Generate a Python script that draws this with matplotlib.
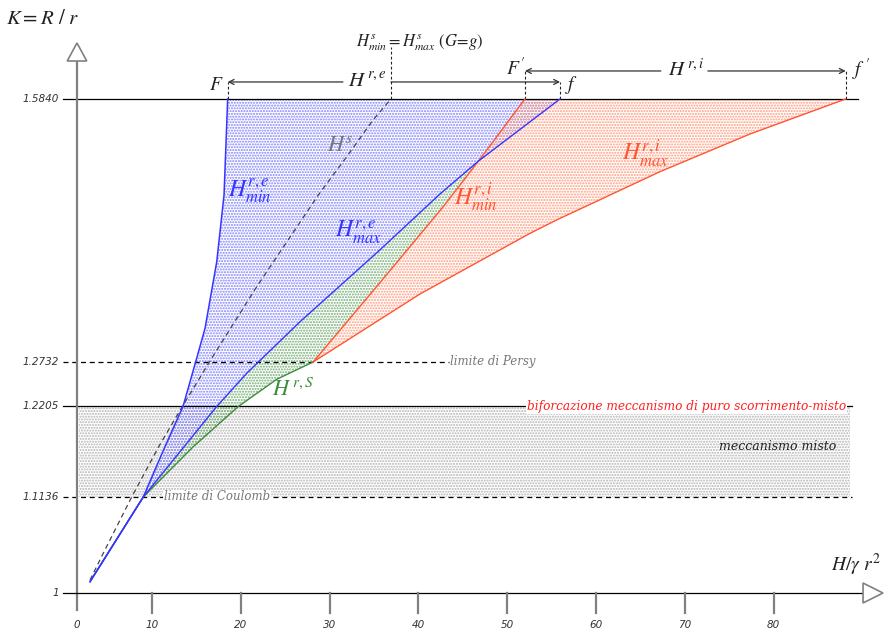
import matplotlib
matplotlib.use("Agg")
import matplotlib.pyplot as plt
from matplotlib.patches import Polygon
import numpy as np

plt.rcParams["mathtext.fontset"] = "stix"
plt.rcParams["hatch.linewidth"] = 1.0

# ---------------------------------------------------------------- data
# K = R / r levels marked on the vertical axis
k_levels = [1.0, 1.1136, 1.2205, 1.2732, 1.5840]
k_labels = ["1", "1.1136", "1.2205", "1.2732", "1.5840"]
x_ticks = [0, 10, 20, 30, 40, 50, 60, 70, 80]
k_coulomb, k_bif, k_persy, k_top = 1.1136, 1.2205, 1.2732, 1.5840

# boundary curves: H / (gamma r^2) against K
he_min_h = [3.02, 9.02, 11.46, 13.49, 15.03, 15.97, 17.29, 18.11, 18.52]
he_min_k = [1.0134, 1.1136, 1.1730, 1.2205, 1.2775, 1.3129, 1.3917, 1.4705, 1.5840]

he_max_h = [3.02, 9.02, 17.29, 20.66, 26.67, 35.50, 42.43, 46.77, 55.95]
he_max_k = [1.0134, 1.1136, 1.2205, 1.2597, 1.3207, 1.4040, 1.4717, 1.5107, 1.5840]

hs_h = [3.02, 4.52, 7.71, 10.80, 13.40, 16.72, 21.79, 28.73, 31.93, 34.89, 36.91]
hs_k = [1.0154, 1.0473, 1.1135, 1.1738, 1.2202, 1.2775, 1.3621, 1.4705, 1.5158, 1.5592, 1.5840]

hrs_h = [3.02, 9.02, 14.65, 19.72, 24.04, 28.16]
hrs_k = [1.0134, 1.1136, 1.1730, 1.2205, 1.2526, 1.2732]

hi_min_h = [28.16, 35.60, 42.80, 46.77, 52.00]
hi_min_k = [1.2732, 1.3660, 1.4567, 1.5107, 1.5840]

hi_max_h = [28.16, 40.18, 52.57, 55.57, 67.21, 77.34, 88.12]
hi_max_k = [1.2732, 1.3535, 1.4252, 1.4410, 1.4981, 1.5426, 1.5840]

# ---------------------------------------------------------------- styles
BLUE = "#3535ff"
RED = "#ff5533"
GREEN = "#3c8c3c"
GREY = "#777777"
AXGREY = "#808080"
SERIF = "DejaVu Serif"

fig = plt.figure(figsize=(8.87, 6.32), dpi=100)
ax = fig.add_axes([0, 0, 1, 1])
ax.set_xlim(-7.12, 92.77)
ax.set_ylim(0.9539, 1.7010)
ax.axis("off")

x_axis0 = 1.55          # where the vertical axis stands
x_line0 = 0.0           # left end of the horizontal reference lines


def stipple(xs, ys, color, z):
    ax.add_patch(Polygon(np.column_stack([xs, ys]), closed=True,
                         facecolor="none", edgecolor=color, hatch="......",
                         linewidth=0, zorder=z))


# mixed-mechanism band between the Coulomb limit and the bifurcation
ax.fill_between([x_axis0 + 0.2, 88.6], k_coulomb, k_bif, facecolor="none",
                edgecolor="#b4b4b4", hatch="......", linewidth=0, zorder=1)

# H^{r,e} domain: between H^{r,e}_min and H^{r,e}_max
stipple(he_min_h + he_max_h[::-1], he_min_k + he_max_k[::-1], "#8080ff", 2)

# H^{r,S} domain: between H^{r,e}_max and H^{r,S} + H^{r,i}_min (up to their crossing)
k_cross = 1.5107
bm_h = [h for h, k in zip(he_max_h, he_max_k) if k_coulomb <= k <= k_cross]
bm_k = [k for k in he_max_k if k_coulomb <= k <= k_cross]
gs_h = [h for h, k in zip(hrs_h, hrs_k) if k >= k_coulomb]
gs_k = [k for k in hrs_k if k >= k_coulomb]
rm_h = [h for h, k in zip(hi_min_h, hi_min_k) if k_persy < k <= k_cross]
rm_k = [k for k in hi_min_k if k_persy < k <= k_cross]
right_h = gs_h + rm_h
right_k = gs_k + rm_k
stipple(bm_h + right_h[::-1], bm_k + right_k[::-1], "#70aa70", 2)

# H^{r,i} domain: between H^{r,i}_min and H^{r,i}_max
stipple(hi_min_h + hi_max_h[::-1], hi_min_k + hi_max_k[::-1], "#ff9a7c", 2)

# ---------------------------------------------------------------- reference lines
ax.plot([x_line0, 89.5], [k_top, k_top], color="black", lw=0.9, zorder=3)
ax.plot([x_line0, 43.4], [k_persy, k_persy], color="black", lw=0.9,
        ls=(0, (4, 3)), zorder=3)
ax.plot([x_line0, 88.8], [k_bif, k_bif], color="black", lw=0.9, zorder=3)
ax.plot([x_line0, 88.8], [k_coulomb, k_coulomb], color="black", lw=0.9,
        ls=(0, (4, 3)), zorder=3)

# ---------------------------------------------------------------- curves
ax.plot(hs_h, hs_k, color="#444444", lw=0.9, ls=(0, (4, 3)), zorder=4)
ax.plot(hrs_h, hrs_k, color=GREEN, lw=1.0, zorder=5)
ax.plot(hi_min_h, hi_min_k, color=RED, lw=1.0, zorder=5)
ax.plot(hi_max_h, hi_max_k, color=RED, lw=1.0, zorder=5)
ax.plot(he_min_h, he_min_k, color=BLUE, lw=1.1, zorder=6)
ax.plot(he_max_h, he_max_k, color=BLUE, lw=1.0, zorder=6)

# ---------------------------------------------------------------- axes
ax.plot([x_axis0, x_axis0], [0.9799, 1.6289], color=AXGREY, lw=1.6, zorder=7)
ax.add_patch(Polygon([[x_axis0 - 1.1, 1.6289], [x_axis0 + 1.1, 1.6289],
                      [x_axis0, 1.6502]], closed=True, facecolor="white",
                     edgecolor=AXGREY, lw=1.2, zorder=7))
ax.plot([x_line0, 90.07], [1.0, 1.0], color="black", lw=0.9, zorder=7)
ax.add_patch(Polygon([[90.07, 1.0118], [90.07, 0.9882], [92.32, 1.0]],
                     closed=True, facecolor="white", edgecolor=AXGREY,
                     lw=1.2, zorder=7))
for t in x_ticks:
    xt = max(t, x_axis0)
    if t > 0:
        ax.plot([xt, xt], [1.0, 0.9764], color=AXGREY, lw=1.6, zorder=7)
    ax.text(xt, 0.9622, str(t), ha="center", va="center", fontsize=7.5,
            style="italic", color="#333333", family="DejaVu Sans")
for k, lab in zip(k_levels, k_labels):
    ax.text(-0.47, k, lab, ha="right", va="center", fontsize=7.5,
            style="italic", color="#333333", family="DejaVu Sans")

ax.text(-2.27, 1.6798, r"$K = R\ /\ r$", ha="center", va="center",
        fontsize=15, color="#222222")
ax.text(89.3, 1.0331, r"$H/\gamma\ r^2$", ha="center", va="center",
        fontsize=14, color="#222222")

# ---------------------------------------------------------------- top ranges
y_re, y_ri = 1.6041, 1.6171
arrow = dict(arrowstyle="->", lw=0.9, color="#333333", shrinkA=0, shrinkB=0,
             mutation_scale=9)
for x0, ytop in [(he_min_h[-1], y_re), (hs_h[-1], 1.6455),
                 (hi_min_h[-1], 1.6183), (he_max_h[-1], y_re),
                 (hi_max_h[-1], y_ri)]:
    ax.plot([x0, x0], [k_top, ytop], color="#222222", lw=0.8,
            ls=(0, (2.5, 2)), zorder=4)
ax.annotate("", xy=(he_min_h[-1], y_re), xytext=(31.5, y_re), arrowprops=arrow)
ax.annotate("", xy=(he_max_h[-1], y_re), xytext=(hs_h[-1], y_re), arrowprops=arrow)
ax.annotate("", xy=(hi_min_h[-1], y_ri), xytext=(67.3, y_ri), arrowprops=arrow)
ax.annotate("", xy=(hi_max_h[-1], y_ri), xytext=(72.6, y_ri), arrowprops=arrow)

ax.text(34.2, y_re + 0.002, r"$H^{\,r,e}$", ha="center", va="center",
        fontsize=15, color="#222222")
ax.text(70.2, y_ri + 0.002, r"$H^{\,r,i}$", ha="center", va="center",
        fontsize=15, color="#222222")
ax.text(17.2, 1.6017, r"$F$", ha="center", va="center", fontsize=14,
        color="#222222")
ax.text(50.9, 1.6206, r"$F'$", ha="center", va="center", fontsize=14,
        color="#222222")
ax.text(57.2, 1.6005, r"$f$", ha="center", va="center", fontsize=14,
        color="#222222")
ax.text(89.8, 1.6183, r"$f\ '$", ha="center", va="center", fontsize=14,
        color="#222222")
ax.text(40.2, 1.6502, r"$H^{s}_{min} = H^{s}_{max}\ (G\!=\!g)$", ha="center",
        va="center", fontsize=12, color="#222222")

# ---------------------------------------------------------------- curve labels
ax.text(21.0, 1.4752, r"$H^{r,e}_{min}$", ha="center", va="center",
        fontsize=17, color=BLUE, zorder=8)
ax.text(31.2, 1.5296, r"$H^{s}$", ha="center", va="center",
        fontsize=16, color=GREY, zorder=8)
ax.text(33.3, 1.4268, r"$H^{r,e}_{max}$", ha="center", va="center",
        fontsize=17, color=BLUE, zorder=8)
ax.text(46.5, 1.4681, r"$H^{r,i}_{min}$", ha="center", va="center",
        fontsize=17, color=RED, zorder=8)
ax.text(65.6, 1.5190, r"$H^{r,i}_{max}$", ha="center", va="center",
        fontsize=17, color=RED, zorder=8)
ax.text(25.9, 1.2412, r"$H^{\,r,S}$", ha="center", va="center",
        fontsize=16, color=GREEN, zorder=8)

# ---------------------------------------------------------------- annotations
ax.text(17.3, k_coulomb, "limite di Coulomb", ha="center", va="center",
        fontsize=8.5, style="italic", color=GREY, family=SERIF, zorder=8,
        bbox=dict(facecolor="white", edgecolor="none", pad=0.6))
ax.text(43.6, k_persy, "limite di Persy", ha="left", va="center",
        fontsize=8.5, style="italic", color=GREY, family=SERIF, zorder=8)
ax.text(52.2, k_bif, "biforcazione meccanismo di puro scorrimento-misto",
        ha="left", va="center", fontsize=8.7, style="italic", color="#ff2020",
        family=SERIF, zorder=8,
        bbox=dict(facecolor="white", edgecolor="none", pad=0.6))
ax.text(80.4, 1.1726, "meccanismo misto", ha="center", va="center",
        fontsize=9, style="italic", color="#222222", family=SERIF, zorder=8)

fig.savefig("out.png", dpi=100)
